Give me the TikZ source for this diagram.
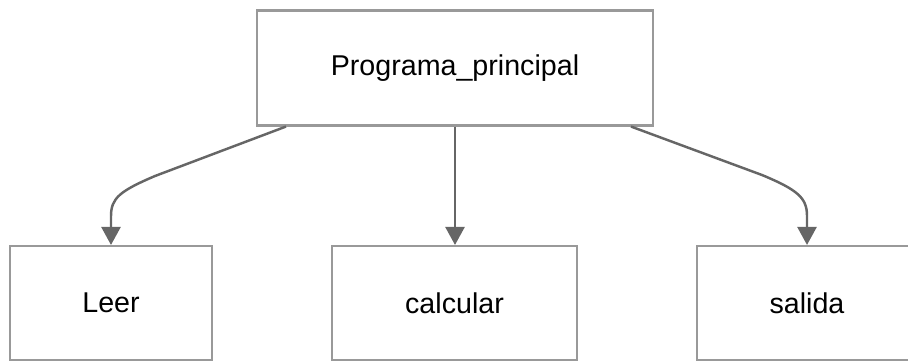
\documentclass[tikz,border=0pt]{standalone}
\usepackage{fontspec}
\setmainfont{Liberation Sans}
\usetikzlibrary{arrows.meta}

\definecolor{boxline}{HTML}{999999}
\definecolor{arrowline}{HTML}{666666}

\begin{document}
\begin{tikzpicture}[x=0.02cm, y=-0.02cm,
    modulo/.style={draw=boxline, line width=1.2pt, fill=white, minimum height=2.3cm,
        inner sep=0pt, font=\fontsize{16.3}{19}\selectfont},
    llamada/.style={draw=arrowline, line width=1.4pt,
        -{Triangle[length=0.36cm, width=0.38cm]}}]
    \useasboundingbox (0,0) rectangle (908,363);
    \clip (0,0) rectangle (908,363);

    \node[modulo, minimum width=7.92cm] (principal) at (455,68) {Programa\_principal};
    \node[modulo, minimum width=4.04cm, minimum height=2.28cm] (leer) at (111,303) {Leer};
    \node[modulo, minimum width=4.9cm, minimum height=2.28cm] (calcular) at (454.5,303) {calcular};
    \node[modulo, minimum width=4.4cm, minimum height=2.28cm] (salida) at (807,303) {salida};

    % curved calls on both sides, straight one in the middle
    \draw[llamada] ([xshift=0.6cm]principal.south west) -- (155,176)
        .. controls (120,191) and (leer.north |- 0,198) .. (leer.north |- 0,216)
        -- (leer.north);
    \draw[llamada] (principal.south) -- (principal.south |- calcular.north);
    \draw[llamada] ([xshift=-0.46cm]principal.south east) -- (762,175)
        .. controls (798,190) and (salida.north |- 0,198) .. (salida.north |- 0,216)
        -- (salida.north);
\end{tikzpicture}
\end{document}
